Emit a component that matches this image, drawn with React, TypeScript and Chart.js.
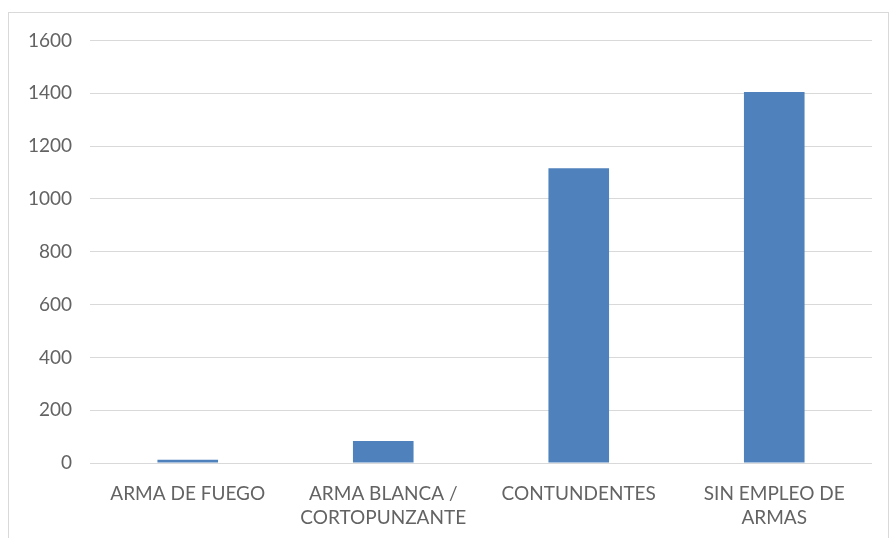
import React, { useEffect, useRef } from "react";
import { Chart, registerables } from "chart.js";

Chart.register(...registerables);

const categories: (string | string[])[] = [
  "ARMA DE FUEGO",
  ["ARMA BLANCA /", "CORTOPUNZANTE"],
  "CONTUNDENTES",
  ["SIN EMPLEO DE", "ARMAS"],
];
const values: number[] = [12, 83, 1116, 1405];
const yMin = 0;
const yMax = 1600;
const yStep = 200;

export default function App() {
  const ref = useRef<HTMLCanvasElement | null>(null);
  useEffect(() => {
    if (!ref.current) return;
    const font = { family: "Lato, 'Liberation Sans', sans-serif", size: 19 };
    const chart = new Chart(ref.current, {
      type: "bar",
      data: {
        labels: categories,
        datasets: [
          {
            data: values,
            backgroundColor: "#4F81BD",
            categoryPercentage: 1,
            barPercentage: 0.31,
          },
        ],
      },
      options: {
        animation: false,
        responsive: false,
        maintainAspectRatio: false,
        layout: { padding: { left: 0, right: 16, top: 27, bottom: 0 } },
        plugins: { legend: { display: false }, tooltip: { enabled: false } },
        scales: {
          x: {
            grid: { display: false },
            border: { display: false },
            ticks: {
              color: "#636363",
              font: { ...font, lineHeight: 1.25 },
              padding: 11,
              maxRotation: 0,
              autoSkip: false,
            },
            afterFit: (s: any) => {
              s.height = 75;
            },
          },
          y: {
            min: yMin,
            max: yMax,
            grid: { color: "#d9d9d9", drawTicks: false, lineWidth: 1 },
            border: { display: false },
            ticks: {
              stepSize: yStep,
              color: "#636363",
              font: { ...font, lineHeight: 1 },
              padding: 18,
              callback: (v: any) => String(v),
            },
            afterFit: (s: any) => {
              s.width = 81;
            },
          },
        },
      },
    });
    return () => chart.destroy();
  }, []);
  return (
    <div
      style={{
        position: "absolute",
        left: 8,
        top: 12,
        width: 879,
        height: 540,
        border: "1px solid #d9d9d9",
        background: "#fff",
        overflow: "hidden",
      }}
    >
      <canvas ref={ref} width={879} height={525} style={{ display: "block" }} />
    </div>
  );
}
